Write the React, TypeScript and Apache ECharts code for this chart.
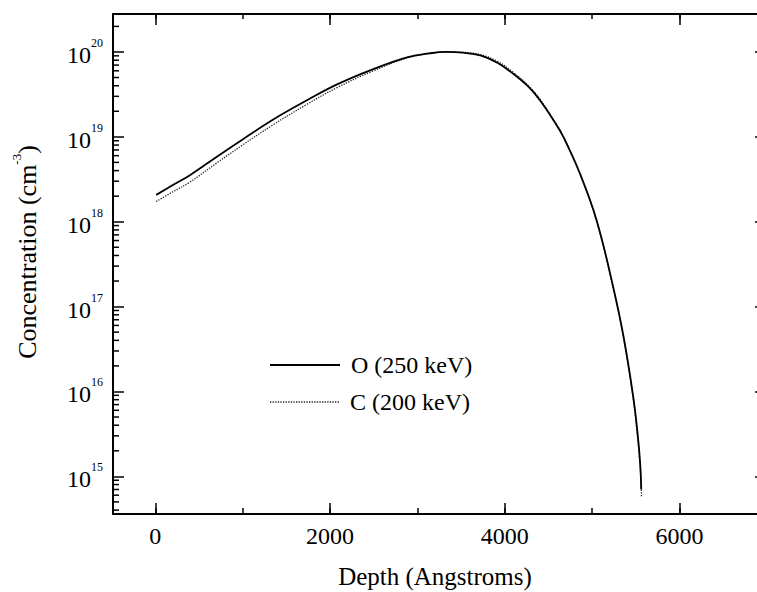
import React, { useEffect, useRef } from 'react';
import * as echarts from 'echarts';

// ---- Data ----
const depthO = [10, 200, 400, 700, 990, 1340, 1730, 2080, 2480, 2880, 3130, 3330, 3520, 3720, 3920, 4100, 4270, 4400, 4570, 4670, 4860, 5050, 5240, 5360, 5470, 5520, 5550, 5562];
const concO = [2.07e18, 2.7e18, 3.56e18, 5.8e18, 9.2e18, 1.58e19, 2.68e19, 4.15e19, 6.2e19, 8.65e19, 9.6e19, 1.0e20, 9.8e19, 9.1e19, 7.4e19, 5.5e19, 3.9e19, 2.72e19, 1.5e19, 1.0e19, 3.7e18, 1.05e18, 1.72e17, 4.4e16, 8.7e15, 3.2e15, 1.4e15, 7.0e14];
const depthC = [10, 200, 400, 700, 990, 1340, 1730, 2080, 2480, 2880, 3130, 3330, 3520, 3720, 3920, 4100, 4270, 4400, 4570, 4670, 4860, 5050, 5240, 5360, 5470, 5520, 5552, 5565];
const concC = [1.73e18, 2.25e18, 2.95e18, 4.9e18, 7.9e18, 1.37e19, 2.4e19, 3.8e19, 5.9e19, 8.5e19, 9.55e19, 1.0e20, 9.9e19, 9.3e19, 7.7e19, 5.7e19, 4.0e19, 2.8e19, 1.52e19, 1.02e19, 3.7e18, 1.02e18, 1.65e17, 4.2e16, 8.2e15, 2.9e15, 1.2e15, 5.8e14];

const seriesNames = ['O (250 keV)', 'C (200 keV)'];
const xTickLabels = ['0', '2000', '4000', '6000'];
const xTitle = 'Depth (Angstroms)';
const yTitle = 'Concentration (cm';
const yTitleSup = '-3';

const X_MIN = -485;
const X_MAX = 6910;
const Y_MIN = 3.6e14;
const Y_MAX = 2.8e20;
const decadeExponents = [14, 15, 16, 17, 18, 19, 20];
const minorMultipliers = [2, 3, 4, 5, 6, 7, 8, 9];

const FONT = 'Liberation Serif';

export default function App() {
  const ref = useRef<HTMLDivElement>(null);

  useEffect(() => {
    if (!ref.current) return;
    const chart = echarts.init(ref.current, undefined, { renderer: 'svg' });

    const minorTickData: number[][] = [];
    decadeExponents.forEach((e) => {
      minorMultipliers.forEach((m) => {
        const v = m * Math.pow(10, e);
        if (v > Y_MIN && v < Y_MAX) minorTickData.push([X_MIN, v]);
      });
    });

    const baseX = {
      type: 'value' as const,
      min: X_MIN,
      max: X_MAX,
      splitLine: { show: false },
      axisLine: { show: true, onZero: false, lineStyle: { color: '#000', width: 2 } },
      axisLabel: { show: false },
    };
    const baseY = {
      type: 'log' as const,
      logBase: 10,
      min: Y_MIN,
      max: Y_MAX,
      splitLine: { show: false },
      minorTick: { show: false },
      axisLine: { show: true, onZero: false, lineStyle: { color: '#000', width: 2 } },
    };

    const option: any = {
      animation: false,
      backgroundColor: '#fff',
      textStyle: { fontFamily: FONT },
      grid: { left: 113, top: 14, width: 646, height: 500 },
      xAxis: [
        {
          ...baseX,
          position: 'bottom',
          minInterval: 1000,
          maxInterval: 1000,
          axisTick: { show: true, inside: true, length: 6, lineStyle: { color: '#000', width: 1.5 } },
        },
        {
          ...baseX,
          position: 'bottom',
          minInterval: 2000,
          maxInterval: 2000,
          axisTick: { show: true, inside: true, length: 11, lineStyle: { color: '#000', width: 1.5 } },
          axisLabel: {
            show: true,
            showMinLabel: false,
            showMaxLabel: false,
            margin: 10,
            color: '#000',
            formatter: (v: number) => (xTickLabels.indexOf(String(v)) >= 0 ? `{t|${v}}` : ''),
            rich: { t: { fontFamily: FONT, fontSize: 24, color: '#000' } },
          },
        },
        {
          ...baseX,
          position: 'top',
          minInterval: 1000,
          maxInterval: 1000,
          axisTick: { show: true, inside: true, length: 5, lineStyle: { color: '#000', width: 1.5 } },
        },
        {
          ...baseX,
          position: 'top',
          minInterval: 2000,
          maxInterval: 2000,
          axisTick: { show: true, inside: true, length: 11, lineStyle: { color: '#000', width: 1.5 } },
        },
      ],
      yAxis: [
        {
          ...baseY,
          position: 'left',
          axisTick: { show: true, inside: true, length: 11, lineStyle: { color: '#000', width: 1.5 } },
          axisLabel: {
            show: true,
            showMinLabel: false,
            showMaxLabel: false,
            margin: 10,
            color: '#000',
            formatter: (v: number) => {
              const e = Math.round(Math.log10(v));
              if (Math.abs(Math.log10(v) - e) > 1e-6) return '';
              return `{b|10}{s|${e}}`;
            },
            rich: {
              b: { fontFamily: FONT, fontSize: 24, color: '#000', padding: [6, 0, 0, 0] },
              s: { fontFamily: FONT, fontSize: 12, color: '#000', verticalAlign: 'top' },
            },
          },
        },
        {
          ...baseY,
          position: 'right',
          axisTick: { show: true, inside: true, length: 4, lineStyle: { color: '#000', width: 1.5 } },
          axisLabel: { show: false },
        },
      ],
      graphic: [
        {
          type: 'text',
          x: 435,
          y: 576,
          style: {
            text: `{t|${xTitle}}`,
            align: 'center',
            verticalAlign: 'middle',
            rich: { t: { fontFamily: FONT, fontSize: 25, fill: '#000' } },
          },
        },
        {
          type: 'text',
          x: 25,
          y: 252,
          rotation: Math.PI / 2,
          style: {
            text: `{n|${yTitle}}{s|${yTitleSup}}{n|)}`,
            align: 'center',
            verticalAlign: 'middle',
            rich: {
              n: { fontFamily: FONT, fontSize: 26, fill: '#000', padding: [5, 0, 0, 0] },
              s: { fontFamily: FONT, fontSize: 13, fill: '#000', verticalAlign: 'top' },
            },
          },
        },
        {
          type: 'line',
          shape: { x1: 270, y1: 365, x2: 340, y2: 365 },
          style: { stroke: '#000', lineWidth: 1.8 },
        },
        {
          type: 'text',
          x: 351,
          y: 365,
          style: {
            text: `{t|${seriesNames[0]}}`,
            verticalAlign: 'middle',
            rich: { t: { fontFamily: FONT, fontSize: 24, fill: '#000' } },
          },
        },
        {
          type: 'line',
          shape: { x1: 270, y1: 402, x2: 340, y2: 402 },
          style: { stroke: '#222', lineWidth: 1.3, lineDash: [1.3, 1.3] },
        },
        {
          type: 'text',
          x: 350,
          y: 402,
          style: {
            text: `{t|${seriesNames[1]}}`,
            verticalAlign: 'middle',
            rich: { t: { fontFamily: FONT, fontSize: 24, fill: '#000' } },
          },
        },
      ],
      series: [
        {
          name: seriesNames[0],
          type: 'line',
          xAxisIndex: 0,
          yAxisIndex: 0,
          data: depthO.map((d, i) => [d, concO[i]]),
          symbol: 'none',
          smooth: 0.4,
          lineStyle: { color: '#000', width: 1.8, type: 'solid' },
          z: 3,
        },
        {
          name: seriesNames[1],
          type: 'line',
          xAxisIndex: 0,
          yAxisIndex: 0,
          data: depthC.map((d, i) => [d, concC[i]]),
          symbol: 'none',
          smooth: 0.4,
          lineStyle: { color: '#222', width: 1.3, type: [1.3, 1.3] },
          z: 2,
        },
        {
          type: 'custom',
          xAxisIndex: 0,
          yAxisIndex: 0,
          silent: true,
          data: minorTickData,
          renderItem: (params: any, api: any) => {
            const p = api.coord([api.value(0), api.value(1)]);
            return {
              type: 'line',
              shape: { x1: p[0], y1: p[1], x2: p[0] + 6, y2: p[1] },
              style: { stroke: '#000', lineWidth: 1.5 },
            };
          },
        },
      ],
    };

    chart.setOption(option);
    return () => chart.dispose();
  }, []);

  return (
    <div style={{ position: 'fixed', left: 0, top: 0, width: 757, height: 592, overflow: 'hidden', background: '#fff' }}>
      <div ref={ref} style={{ width: 770, height: 592 }} />
    </div>
  );
}
